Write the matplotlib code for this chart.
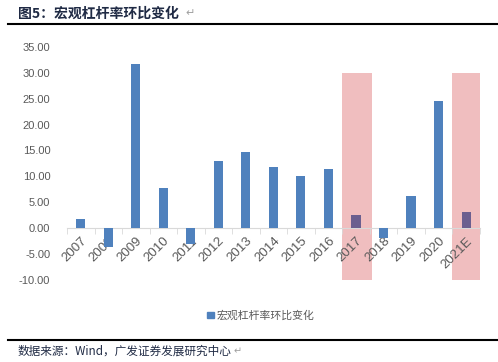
import matplotlib
matplotlib.use('Agg')
from matplotlib import pyplot as plt
from matplotlib.patches import Rectangle
import numpy as np

plt.rcParams['font.family'] = ['Liberation Sans', 'Noto Sans CJK SC', 'DejaVu Sans']

years = ['2007', '2008', '2009', '2010', '2011', '2012', '2013', '2014',
         '2015', '2016', '2017', '2018', '2019', '2020', '2021E']
values = [1.7, -3.6, 31.7, 7.7, -3.0, 13.0, 14.7, 11.8,
          10.1, 11.4, 2.5, -1.9, 6.2, 24.6, 3.1]
highlight = ['2017', '2021E']
series_name = '宏观杠杆率环比变化'

blue = '#4F81BD'
purple = '#6B5F8F'
pink = '#F0BEBF'

fig = plt.figure(figsize=(4.98, 3.62), dpi=100)
ax = fig.add_axes([0.1345, 0.2273, 0.829, 0.643])

x = np.arange(len(years))
colors = [purple if y in highlight else blue for y in years]
bars = ax.bar(x, values, width=0.33, color=colors, zorder=3)

# shaded columns
for y in highlight:
    i = years.index(y)
    ax.add_patch(Rectangle((i - 0.5, -10), 1.08, 40, color=pink, lw=0, zorder=1))

ax.set_xlim(-0.5, len(years) - 0.5)
ax.set_ylim(-10, 35)
ax.set_yticks(np.arange(-10, 36, 5))
ax.set_yticklabels(['%.2f' % v for v in np.arange(-10, 36, 5)])

for s in ['top', 'right', 'left']:
    ax.spines[s].set_visible(False)
ax.spines['bottom'].set_position(('data', 0))
ax.spines['bottom'].set_color('#D9D9D9')
ax.spines['bottom'].set_zorder(2)

ax.set_xticks(x)
ax.set_xticklabels(years, rotation=45, ha='right', va='top', rotation_mode='anchor')
ax.set_xticks(np.arange(-0.5, len(years), 1), minor=True)
ax.tick_params(axis='x', which='major', length=0, pad=5, labelsize=9.5, labelcolor='#595959')
ax.tick_params(axis='x', which='minor', length=4, color='#D9D9D9')
ax.tick_params(axis='y', length=0, pad=12, labelsize=8, labelcolor='#595959')

leg = ax.legend([bars[0]], [series_name], loc='upper center', bbox_to_anchor=(0.47, -0.09),
                frameon=False, handlelength=0.6, handleheight=0.6, handletextpad=0.3,
                prop={'family': ['Noto Sans CJK SC'], 'size': 7.8})
leg.legend_handles[0].set_color(blue)
for t in leg.get_texts():
    t.set_color('#595959')

# title and source lines
fig.text(0.036, 0.963, '图5：宏观杠杆率环比变化', fontsize=10, fontweight='bold',
         color='#1F2A44', va='center', family=['Noto Sans CJK SC', 'DejaVu Sans'])
fig.text(0.372, 0.963, '↵', fontsize=8, color='#A0A0A0', va='center', family=['DejaVu Sans'])
fig.add_artist(plt.Line2D([0.016, 1.0], [0.934, 0.934], color='black', lw=1.5))
fig.add_artist(plt.Line2D([0.016, 1.0], [0.061, 0.061], color='black', lw=1.5))
fig.text(0.036, 0.030, '数据来源：Wind，广发证券发展研究中心', fontsize=8.4,
         color='#1F2A44', va='center', family=['Noto Sans CJK SC', 'DejaVu Sans'])
fig.text(0.468, 0.030, '↵', fontsize=7, color='#A0A0A0', va='center', family=['DejaVu Sans'])

plt.savefig('out.png', dpi=100)
